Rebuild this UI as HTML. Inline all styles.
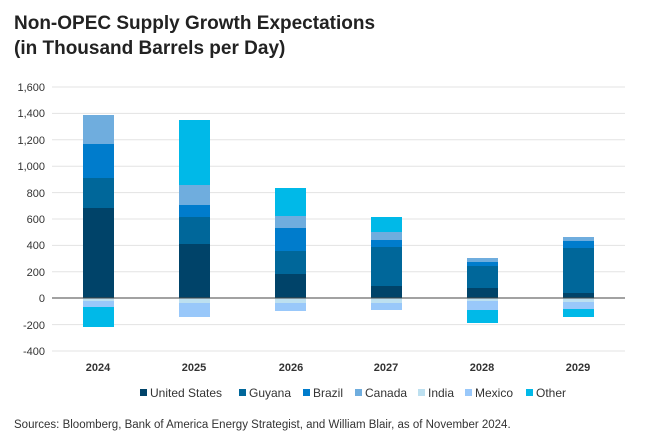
<!DOCTYPE html>
<html><head><meta charset="utf-8"><style>
body{margin:0;background:#fff;width:645px;height:440px;overflow:hidden;font-family:"Liberation Sans",sans-serif}
</style></head><body>
<svg width="645" height="440" xmlns="http://www.w3.org/2000/svg" font-family="Liberation Sans, sans-serif">
<text x="14" y="29" font-size="19" font-weight="bold" fill="#222">Non-OPEC Supply Growth Expectations</text>
<text x="14" y="54" font-size="19" font-weight="bold" fill="#222">(in Thousand Barrels per Day)</text>
<g stroke="#e3e3e3" stroke-width="1">
<line x1="52" x2="625" y1="87" y2="87"/><line x1="52" x2="625" y1="113.4" y2="113.4"/><line x1="52" x2="625" y1="139.8" y2="139.8"/><line x1="52" x2="625" y1="166.2" y2="166.2"/><line x1="52" x2="625" y1="192.6" y2="192.6"/><line x1="52" x2="625" y1="219" y2="219"/><line x1="52" x2="625" y1="245.4" y2="245.4"/><line x1="52" x2="625" y1="271.8" y2="271.8"/><line x1="52" x2="625" y1="324.6" y2="324.6"/><line x1="52" x2="625" y1="351" y2="351"/>
</g>
<g font-size="11" fill="#333" text-anchor="end">
<text x="45" y="91">1,600</text><text x="45" y="117">1,400</text><text x="45" y="144">1,200</text><text x="45" y="170">1,000</text><text x="45" y="197">800</text><text x="45" y="223">600</text><text x="45" y="249">400</text><text x="45" y="276">200</text><text x="45" y="302">0</text><text x="45" y="329">-200</text><text x="45" y="355">-400</text>
</g>
<g>
<!-- 2024 -->
<rect x="83" y="115" width="31" height="29" fill="#6fadde"/><rect x="83" y="144" width="31" height="34" fill="#007ccc"/><rect x="83" y="178" width="31" height="30" fill="#00679a"/><rect x="83" y="208" width="31" height="90" fill="#004369"/>
<rect x="83" y="298" width="31" height="9" fill="#99c8fa"/><rect x="83" y="298" width="31" height="3" fill="#bde0f0"/><rect x="83" y="307" width="31" height="20" fill="#00b9e8"/>
<!-- 2025 -->
<rect x="179" y="120" width="31" height="65" fill="#00b9e8"/><rect x="179" y="185" width="31" height="20" fill="#6fadde"/><rect x="179" y="205" width="31" height="12" fill="#007ccc"/><rect x="179" y="217" width="31" height="27" fill="#00679a"/><rect x="179" y="244" width="31" height="54" fill="#004369"/>
<rect x="179" y="298" width="31" height="5" fill="#bde0f0"/><rect x="179" y="303" width="31" height="14" fill="#99c8fa"/>
<!-- 2026 -->
<rect x="275" y="188" width="31" height="28" fill="#00b9e8"/><rect x="275" y="216" width="31" height="12" fill="#6fadde"/><rect x="275" y="228" width="31" height="23" fill="#007ccc"/><rect x="275" y="251" width="31" height="23" fill="#00679a"/><rect x="275" y="274" width="31" height="24" fill="#004369"/>
<rect x="275" y="298" width="31" height="5" fill="#bde0f0"/><rect x="275" y="303" width="31" height="8" fill="#99c8fa"/>
<!-- 2027 -->
<rect x="371" y="217" width="31" height="15" fill="#00b9e8"/><rect x="371" y="232" width="31" height="8" fill="#6fadde"/><rect x="371" y="240" width="31" height="7" fill="#007ccc"/><rect x="371" y="247" width="31" height="39" fill="#00679a"/><rect x="371" y="286" width="31" height="12" fill="#004369"/>
<rect x="371" y="298" width="31" height="5" fill="#bde0f0"/><rect x="371" y="303" width="31" height="7" fill="#99c8fa"/>
<!-- 2028 -->
<rect x="467" y="258" width="31" height="4" fill="#6fadde"/><rect x="467" y="262" width="31" height="4" fill="#007ccc"/><rect x="467" y="266" width="31" height="22" fill="#00679a"/><rect x="467" y="288" width="31" height="10" fill="#004369"/>
<rect x="467" y="298" width="31" height="3" fill="#bde0f0"/><rect x="467" y="301" width="31" height="9" fill="#99c8fa"/><rect x="467" y="310" width="31" height="13" fill="#00b9e8"/>
<!-- 2029 -->
<rect x="563" y="237" width="31" height="4" fill="#6fadde"/><rect x="563" y="241" width="31" height="7" fill="#007ccc"/><rect x="563" y="248" width="31" height="45" fill="#00679a"/><rect x="563" y="293" width="31" height="5" fill="#004369"/>
<rect x="563" y="298" width="31" height="4" fill="#bde0f0"/><rect x="563" y="302" width="31" height="7" fill="#99c8fa"/><rect x="563" y="309" width="31" height="8" fill="#00b9e8"/>
</g>
<line x1="52" x2="625" y1="298" y2="298" stroke="#444" stroke-width="1"/>
<g font-size="11" font-weight="bold" fill="#333" text-anchor="middle">
<text x="98" y="371">2024</text><text x="194" y="371">2025</text><text x="291" y="371">2026</text><text x="386" y="371">2027</text><text x="482" y="371">2028</text><text x="578" y="371">2029</text>
</g>
<g font-size="12" fill="#333">
<rect x="140" y="389" width="7" height="7" fill="#004369"/><text x="150" y="397">United States</text>
<rect x="239" y="389" width="7" height="7" fill="#00679a"/><text x="249" y="397">Guyana</text>
<rect x="303" y="389" width="7" height="7" fill="#007ccc"/><text x="313" y="397">Brazil</text>
<rect x="355" y="389" width="7" height="7" fill="#6fadde"/><text x="365" y="397">Canada</text>
<rect x="418" y="389" width="7" height="7" fill="#bde0f0"/><text x="428" y="397">India</text>
<rect x="465" y="389" width="7" height="7" fill="#99c8fa"/><text x="475" y="397">Mexico</text>
<rect x="526" y="389" width="7" height="7" fill="#00b9e8"/><text x="536" y="397">Other</text>
</g>
<text x="14" y="428" font-size="11.5" fill="#333">Sources: Bloomberg, Bank of America Energy Strategist, and William Blair, as of November 2024.</text>
</svg>
</body></html>
